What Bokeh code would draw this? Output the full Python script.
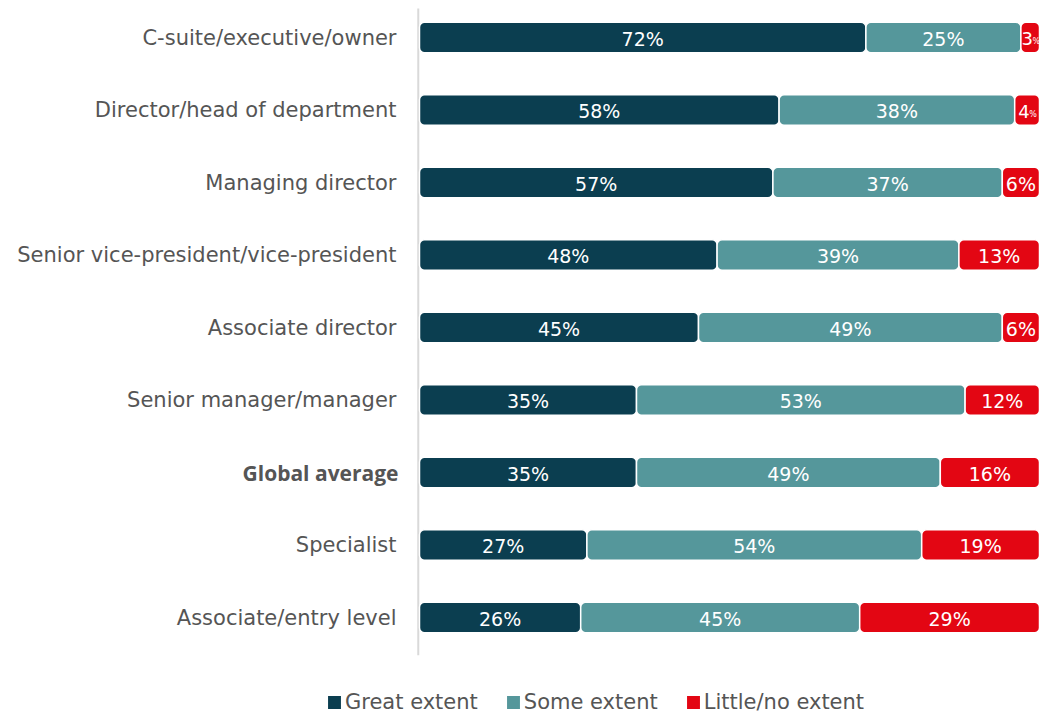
from bokeh.plotting import figure
from bokeh.models import Range1d, ColumnDataSource, Legend, LegendItem
from bokeh.core.properties import value
from bokeh.embed import file_html
from bokeh.resources import INLINE

categories = [
    "C-suite/executive/owner",
    "Director/head of department",
    "Managing director",
    "Senior vice-president/vice-president",
    "Associate director",
    "Senior manager/manager",
    "Global average",
    "Specialist",
    "Associate/entry level",
]
great = [72, 58, 57, 48, 45, 35, 35, 27, 26]
some = [25, 38, 37, 39, 49, 53, 49, 54, 45]
little = [3, 4, 6, 13, 6, 12, 16, 19, 29]
series_names = ["Great extent", "Some extent", "Little/no extent"]
colors = ["#0b3e50", "#55979b", "#e30613"]

FONT = "DejaVu Sans"
W, H = 1039, 715
X0 = 419          # pixel where 0% sits
PX_PER = 6.2      # pixels per percentage point
ROW0, ROWSTEP = 37, 72.5
rows = list(range(len(categories)))

p = figure(width=W, height=H, output_backend="svg", toolbar_location=None,
           x_range=Range1d(-X0 / PX_PER, (W - X0) / PX_PER),
           y_range=Range1d((H - ROW0) / ROWSTEP, -ROW0 / ROWSTEP),
           min_border=0)
p.outline_line_color = None
p.grid.visible = False
p.axis.visible = False
p.background_fill_color = "white"
p.border_fill_color = "white"

# vertical baseline
p.segment(x0=[-0.2], y0=[-0.4], x1=[-0.2], y1=[8.52], line_color="#d9d9d9", line_width=2)

# category labels
normal = [i for i, c in enumerate(categories) if c != "Global average"]
bold = [i for i, c in enumerate(categories) if c == "Global average"]
p.text(x=[0] * len(normal), y=[rows[i] for i in normal], text=[categories[i] for i in normal],
       x_offset=-23, text_align="right", text_baseline="middle", text_font=value(FONT),
       text_font_size="21px", text_color="#555555")
p.text(x=[0] * len(bold), y=[rows[i] for i in bold], text=[categories[i] for i in bold],
       x_offset=-21, text_align="right", text_baseline="middle", text_font=value("Open Sans"),
       text_font_size="21px", text_font_style="bold", text_color="#555555")

vals = [great, some, little]
left = [0] * len(categories)
renderers = []
for k, v in enumerate(vals):
    right = [l + x for l, x in zip(left, v)]
    mid = [(a + b) / 2 for a, b in zip(left, right)]
    src = ColumnDataSource(dict(y=rows, left=left, right=right))
    r = p.hbar(y="y", left="left", right="right", height=0.42, source=src,
               fill_color=colors[k], line_color="white", line_width=1.5, border_radius=5)
    renderers.append(r)
    big = [i for i in rows if v[i] >= 5]
    small = [i for i in rows if v[i] < 5]
    p.text(x=[mid[i] for i in big], y=[rows[i] for i in big], text=[f"{v[i]}%" for i in big],
           text_align="center", text_baseline="middle", text_color="white",
           text_font=value(FONT), text_font_size="19px", y_offset=1)
    if small:
        p.text(x=[mid[i] for i in small], y=[rows[i] for i in small], text=[str(v[i]) for i in small],
               text_align="center", text_baseline="middle", text_color="white",
               text_font=value(FONT), text_font_size="18px", x_offset=-3, y_offset=1)
        p.text(x=[mid[i] for i in small], y=[rows[i] for i in small], text=["%"] * len(small),
               text_align="center", text_baseline="middle", text_color="white",
               text_font=value(FONT), text_font_size="8px", x_offset=6, y_offset=4)
    left = right

legend = Legend(items=[LegendItem(label=n, renderers=[r]) for n, r in zip(series_names, renderers)],
                orientation="horizontal", location=(325, 1),
                label_text_font=FONT, label_text_font_size="21px", label_text_color="#555555",
                glyph_width=18, glyph_height=18, label_standoff=2, spacing=26,
                border_line_color=None, background_fill_alpha=0, padding=0, margin=0)
p.add_layout(legend, "center")

open("out.html", "w").write(file_html(p, INLINE))
